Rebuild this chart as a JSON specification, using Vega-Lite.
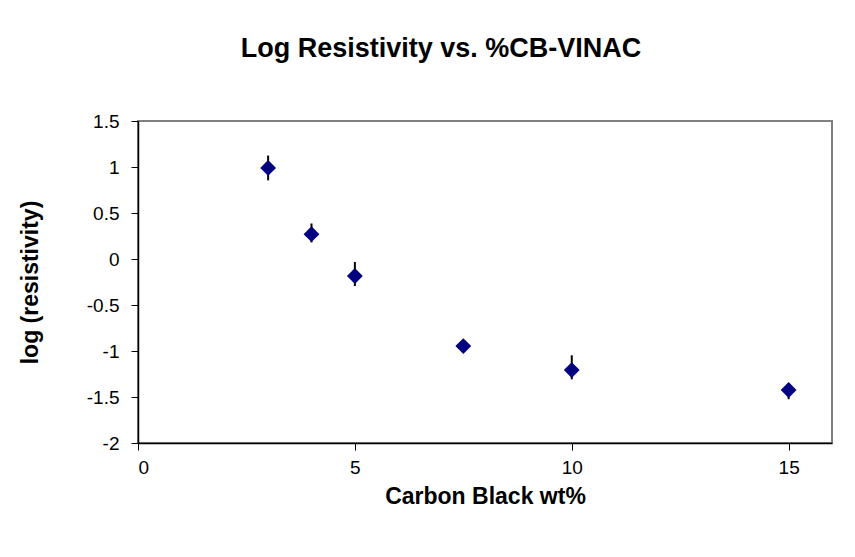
{
  "$schema": "https://vega.github.io/schema/vega-lite/v6.json",
  "width": 694,
  "height": 322,
  "autosize": {"type": "none"},
  "padding": {"left": 138, "top": 121, "right": 23, "bottom": 114},
  "background": "white",
  "title": {
    "text": "Log Resistivity vs. %CB-VINAC",
    "font": "Liberation Sans",
    "fontSize": 27,
    "fontWeight": "bold",
    "color": "#000000",
    "anchor": "middle",
    "frame": "group",
    "dx": -44,
    "offset": 49
  },
  "data": {
    "values": [
      {"wt": 3, "logr": 0.99, "low": 0.855, "high": 1.124},
      {"wt": 4, "logr": 0.27, "low": 0.18, "high": 0.386},
      {"wt": 5, "logr": -0.185, "low": -0.294, "high": -0.033},
      {"wt": 7.5, "logr": -0.946, "low": -1.006, "high": -0.886},
      {"wt": 10, "logr": -1.207, "low": -1.308, "high": -1.047},
      {"wt": 15, "logr": -1.424, "low": -1.524, "high": -1.364}
    ]
  },
  "layer": [
    {
      "mark": {"type": "rule", "color": "#000000", "strokeWidth": 2},
      "encoding": {
        "x": {
          "field": "wt",
          "type": "quantitative",
          "scale": {"domain": [0, 16], "nice": false, "zero": false},
          "axis": {
            "title": "Carbon Black wt%",
            "values": [0, 5, 10, 15],
            "labelPadding": 8,
            "titlePadding": 8
          }
        },
        "y": {
          "field": "low",
          "type": "quantitative",
          "scale": {"domain": [-2, 1.5], "nice": false, "zero": false},
          "axis": {
            "title": "log (resistivity)",
            "values": [-2, -1.5, -1, -0.5, 0, 0.5, 1, 1.5],
            "labelExpr": "'' + datum.value",
            "labelPadding": 12,
            "titlePadding": 44
          }
        },
        "y2": {"field": "high"}
      }
    },
    {
      "mark": {"type": "point", "shape": "diamond", "filled": true, "color": "#000080", "size": 250, "opacity": 1},
      "encoding": {
        "x": {"field": "wt", "type": "quantitative"},
        "y": {"field": "logr", "type": "quantitative"}
      }
    }
  ],
  "config": {
    "view": {"stroke": "#808080", "strokeWidth": 2},
    "axis": {
      "grid": false,
      "domainColor": "#000000",
      "domainWidth": 1.5,
      "tickColor": "#000000",
      "tickSize": 7,
      "tickWidth": 1,
      "labelFont": "Liberation Sans",
      "labelFontSize": 19,
      "labelColor": "#000000",
      "titleFont": "Liberation Sans",
      "titleFontSize": 23,
      "titleFontWeight": "bold",
      "titleColor": "#000000"
    }
  }
}
